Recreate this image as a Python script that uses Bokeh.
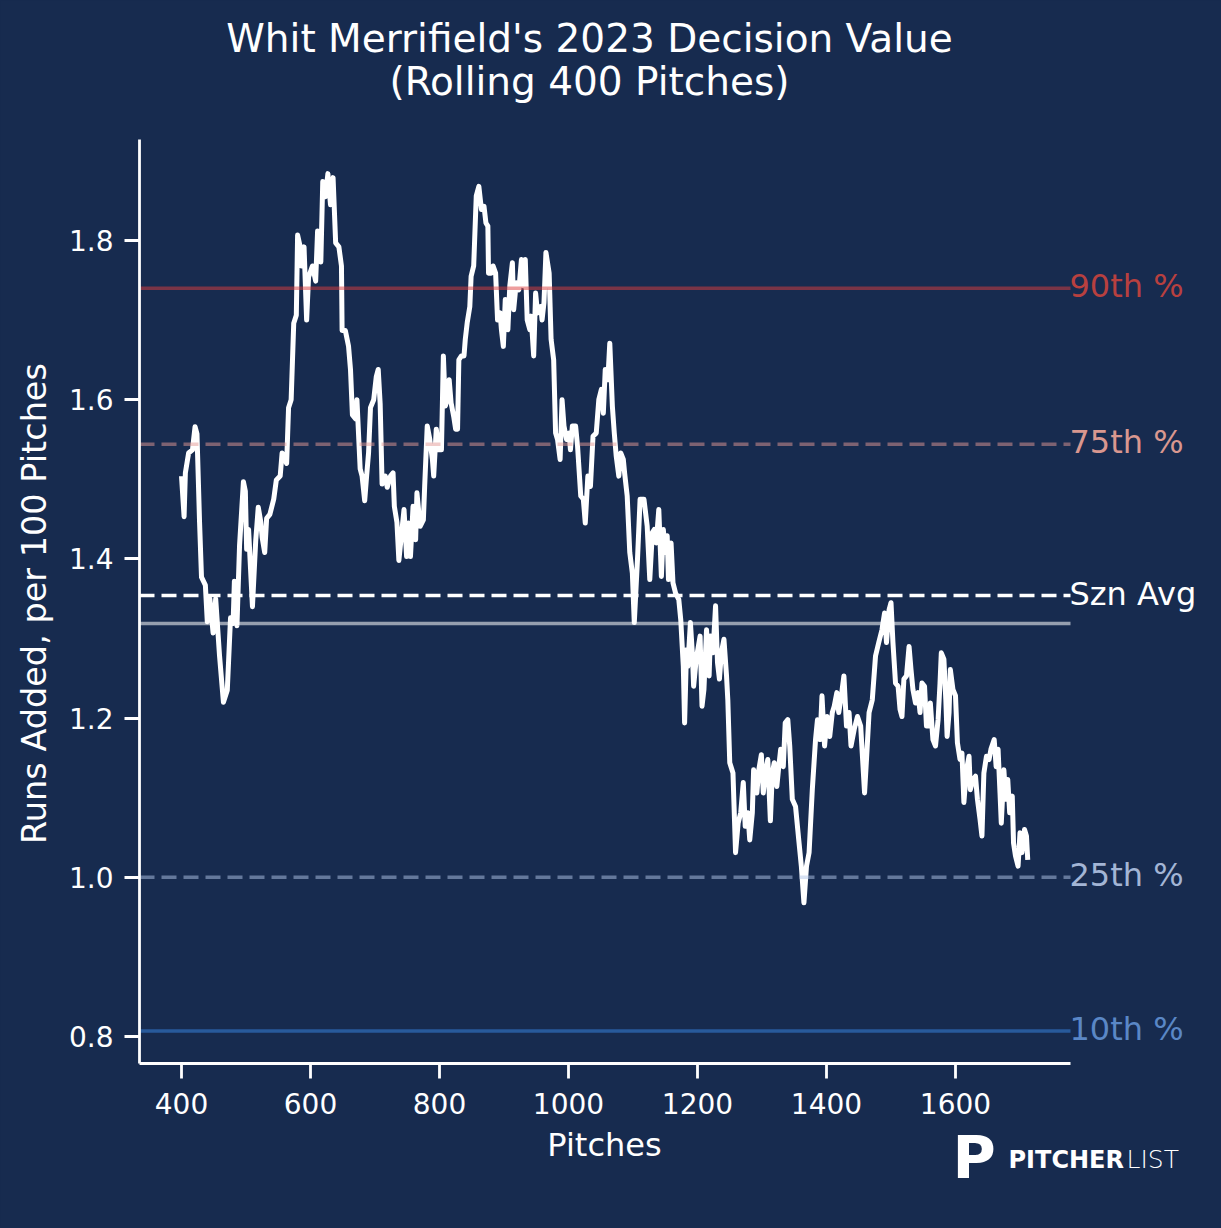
import math
from bokeh.plotting import figure
from bokeh.models import Range1d, Label, FixedTicker, PrintfTickFormatter
from bokeh.embed import file_html
from bokeh.resources import INLINE

# ---------------- data ----------------
pitches = [
    400, 404, 406, 411, 417, 421, 424, 428, 431, 437, 440, 444, 449, 453, 459, 465, 471, 476, 480, 482,
    486, 490, 496, 499, 501, 504, 507, 510, 515, 519, 523, 525, 529, 532, 537, 543, 547, 553, 556, 563,
    566, 570, 574, 578, 580, 584, 586, 590, 594, 597, 603, 608, 611, 616, 619, 623, 627, 631, 635, 639,
    644, 648, 649, 654, 659, 662, 665, 670, 672, 677, 680, 684, 687, 690, 693, 698, 702, 705, 708, 711,
    716, 719, 724, 728, 730, 734, 737,
    745, 749, 752, 755, 759, 763, 765, 770, 775, 777, 781, 785, 789, 791, 795, 799, 803, 806, 809, 812,
    815, 818, 822, 825, 828, 830, 834, 838, 840, 843, 847, 849, 853, 857, 861, 865, 869, 872, 875, 876,
    880, 883, 887, 890, 894, 896, 899, 902, 906, 909, 913, 915, 919, 923, 927, 930, 933, 936, 940, 942,
    946, 949, 952, 957, 959, 962, 965, 970, 973, 977, 980, 983, 987, 990, 993, 997, 1001, 1003, 1006, 1011,
    1014, 1019, 1023, 1026, 1030, 1034, 1038, 1043, 1047, 1051, 1054, 1057, 1061, 1064, 1068, 1071, 1074, 1078, 1081, 1085,
    1087, 1091, 1095, 1099, 1102, 1107, 1111,
    1117, 1122, 1126, 1130, 1133, 1136, 1140, 1144, 1147, 1150, 1153, 1155, 1159, 1162, 1166, 1171,
    1174, 1178, 1180, 1183, 1185, 1189, 1192, 1194, 1198, 1204, 1207, 1210, 1214, 1218, 1220, 1224, 1228, 1231, 1234, 1237,
    1241, 1245, 1247,
    1250, 1255, 1259, 1263, 1267, 1271, 1274, 1278, 1281, 1285, 1287, 1292, 1295, 1299, 1302, 1305, 1309, 1313, 1316, 1319,
    1323, 1326, 1329, 1333, 1336, 1340, 1343, 1347, 1352, 1357, 1361, 1365, 1369, 1373, 1378, 1383, 1386, 1390, 1393, 1397,
    1401, 1405, 1409, 1412, 1416, 1419, 1423, 1427, 1431, 1435, 1438, 1443, 1448,
    1453, 1459, 1462, 1466, 1471, 1476, 1481, 1486, 1490, 1493, 1497, 1500, 1503, 1507, 1511, 1514, 1517, 1520, 1524, 1528,
    1531, 1534, 1538, 1542, 1545, 1548, 1552, 1555, 1559, 1561, 1565, 1569, 1573, 1576, 1578, 1582, 1585, 1587, 1590, 1592,
    1596, 1600, 1603, 1607, 1610, 1613, 1617, 1621, 1623, 1627, 1631, 1634, 1638, 1641, 1644, 1648, 1652, 1655, 1660, 1663,
    1666, 1669, 1671, 1675, 1678, 1681, 1684, 1688, 1690, 1693, 1697, 1700, 1703, 1707, 1710, 1712,
]
runs_added = [
    1.504, 1.453, 1.508, 1.533, 1.537, 1.566, 1.557, 1.446, 1.377, 1.367, 1.321, 1.350, 1.307, 1.350, 1.278, 1.220, 1.235, 1.326, 1.319, 1.372,
    1.316, 1.417, 1.497, 1.485, 1.412, 1.437, 1.388, 1.340, 1.422, 1.465, 1.446, 1.427, 1.408, 1.451, 1.456, 1.475, 1.499, 1.504, 1.533, 1.520,
    1.590, 1.600, 1.696, 1.706, 1.807, 1.792, 1.768, 1.792, 1.700, 1.754, 1.768, 1.749, 1.812, 1.773, 1.874, 1.855, 1.884, 1.845, 1.879, 1.797,
    1.792, 1.768, 1.687, 1.687, 1.667, 1.638, 1.581, 1.576, 1.600, 1.513, 1.504, 1.473, 1.504, 1.533, 1.590, 1.600, 1.629, 1.638, 1.595, 1.494,
    1.504, 1.490, 1.504, 1.508, 1.466, 1.446, 1.398,
    1.462, 1.403, 1.445, 1.403, 1.466, 1.424, 1.483, 1.441, 1.449, 1.491, 1.567, 1.550, 1.525, 1.504, 1.563, 1.537, 1.537, 1.655, 1.592, 1.600,
    1.625, 1.596, 1.579, 1.563, 1.563, 1.650, 1.655, 1.655, 1.676, 1.697, 1.717, 1.755, 1.768, 1.856, 1.868, 1.839, 1.843, 1.822, 1.818, 1.759,
    1.759, 1.768, 1.759, 1.700, 1.709, 1.688, 1.667, 1.726, 1.688, 1.743, 1.772, 1.713, 1.747, 1.738, 1.776, 1.743, 1.776, 1.700, 1.688, 1.705,
    1.655, 1.734, 1.709, 1.717, 1.700, 1.722, 1.785, 1.759, 1.676, 1.650, 1.558, 1.550, 1.525, 1.600, 1.567, 1.550, 1.558, 1.537, 1.567, 1.567,
    1.542, 1.479, 1.475, 1.445, 1.504, 1.491, 1.554, 1.558, 1.600, 1.613, 1.583, 1.638, 1.625, 1.671, 1.592, 1.558, 1.529, 1.504, 1.533, 1.525,
    1.508, 1.479, 1.408, 1.382, 1.320, 1.400, 1.475,
    1.475, 1.441, 1.374, 1.433, 1.437, 1.420, 1.462, 1.378, 1.437, 1.408, 1.429, 1.374, 1.420, 1.370, 1.357, 1.349,
    1.324, 1.265, 1.194, 1.286, 1.265, 1.320, 1.282, 1.240, 1.274, 1.303, 1.215, 1.236, 1.311, 1.253, 1.303, 1.282, 1.341, 1.270, 1.249, 1.282,
    1.299, 1.253, 1.223,
    1.144, 1.131, 1.031, 1.068, 1.081, 1.119, 1.064, 1.081, 1.047, 1.081, 1.135, 1.106, 1.135, 1.154, 1.106, 1.131, 1.148, 1.071, 1.131, 1.144,
    1.114, 1.139, 1.161, 1.139, 1.194, 1.198, 1.165, 1.098, 1.089, 1.047, 1.014, 0.968, 1.014, 1.031, 1.110, 1.173, 1.198, 1.173, 1.228, 1.165,
    1.202, 1.177, 1.207, 1.215, 1.232, 1.207, 1.228, 1.253, 1.190, 1.207, 1.165, 1.186, 1.202,
    1.190, 1.106, 1.148, 1.207, 1.223, 1.278, 1.295, 1.311, 1.332, 1.295, 1.336, 1.345, 1.295, 1.244, 1.240, 1.211, 1.202, 1.249, 1.253, 1.290,
    1.261, 1.236, 1.219, 1.232, 1.207, 1.244, 1.240, 1.190, 1.190, 1.219, 1.173, 1.165, 1.198, 1.244, 1.282, 1.274, 1.223, 1.177, 1.207, 1.261,
    1.236, 1.228, 1.169, 1.148, 1.156, 1.094, 1.135, 1.152, 1.110, 1.123, 1.127, 1.098, 1.073, 1.052, 1.131, 1.152, 1.148, 1.161, 1.173, 1.139,
    1.161, 1.106, 1.068, 1.135, 1.098, 1.123, 1.081, 1.102, 1.043, 1.027, 1.014, 1.056, 1.031, 1.060, 1.052, 1.022,
]

ref_labels = ["90th %", "75th %", "Szn Avg", "25th %", "10th %"]
ref_values = [1.740, 1.544, 1.354, 1.000, 0.807]
league_avg = 1.319

x_ticks = [400, 600, 800, 1000, 1200, 1400, 1600]
y_ticks = [0.8, 1.0, 1.2, 1.4, 1.6, 1.8]
title_lines = ["Whit Merrifield's 2023 Decision Value", "(Rolling 400 Pitches)"]
x_label = "Pitches"
y_label = "Runs Added, per 100 Pitches"

# ---------------- layout helpers (screen pixel -> data) ----------------
BG = "#172B4F"
FONT = "DejaVu Sans"
W, H = 1220, 1226           # canvas = plotting frame
KX, KY = 0.645, 796.0       # pixels per data unit
SX400, SY18 = 181.0, 240.0  # screen position of x=400 and y=1.8


def data_x(sx):
    return 400 + (sx - SX400) / KX


def data_y(sy):
    return 1.8 - (sy - SY18) / KY


X0, X1 = data_x(139), data_x(1070)   # visible axis extent
Y0, Y1 = data_y(1063), data_y(139)

p = figure(
    frame_width=W, frame_height=H,
    x_range=Range1d(data_x(0), data_x(W)), y_range=Range1d(data_y(H), data_y(0)),
    output_backend="svg", toolbar_location=None,
    min_border_left=0, min_border_right=0, min_border_top=0, min_border_bottom=0,
    background_fill_color=BG, border_fill_color=BG, outline_line_color=None,
)
p.xgrid.visible = False
p.ygrid.visible = False

for ax in (p.xaxis[0], p.yaxis[0]):
    ax.axis_line_color = "white"
    ax.axis_line_width = 2.8
    ax.major_tick_line_color = "white"
    ax.major_tick_line_width = 2.8
    ax.major_tick_out = 15
    ax.major_tick_in = 0
    ax.minor_tick_line_color = None
    ax.major_label_text_color = "white"
    ax.major_label_text_font = FONT
    ax.major_label_text_font_size = "28px"

p.xaxis.ticker = FixedTicker(ticks=x_ticks)
p.yaxis.ticker = FixedTicker(ticks=y_ticks)
p.yaxis.formatter = PrintfTickFormatter(format="%.1f")
p.xaxis.fixed_location = Y0
p.yaxis.fixed_location = X0
p.xaxis.bounds = (X0, X1)
p.yaxis.bounds = (Y0, Y1)
p.xaxis.major_label_standoff = 14
p.yaxis.major_label_standoff = 11

# data line
p.line(pitches, runs_added, line_color="white", line_width=5, line_join="round")

# reference lines (drawn over the data line, semi-transparent like the original)
line_styles = [
    ("#dd3d3d", 0.5, "solid"),
    ("#e39995", 0.5, "15 7"),
    ("#ffffff", 1.0, "15 7"),
    ("#b1c5e7", 0.5, "15 7"),
    ("#3989e7", 0.5, "solid"),
]
text_colors = ["#b8403f", "#d9978f", "#ffffff", "#a3b5d5", "#5a87c6"]

for val, (col, alpha, dash), tcol, lab in zip(ref_values, line_styles, text_colors, ref_labels):
    p.line([X0, X1], [val, val], line_color=col, line_alpha=alpha, line_width=3.5, line_dash=dash)
    p.add_layout(Label(x=X1, y=val, x_offset=-1, y_offset=2, text=lab, text_color=tcol, text_font=FONT,
                       text_font_size="32px", text_align="left", text_baseline="middle"))

p.line([X0, X1], [league_avg, league_avg], line_color="white", line_alpha=0.55, line_width=3.5)

# axis titles
p.add_layout(Label(x=data_x(604), y=data_y(1144), text=x_label, text_color="white", text_font=FONT,
                   text_font_size="32px", text_align="center", text_baseline="middle"))
p.add_layout(Label(x=data_x(34), y=data_y(603), text=y_label, text_color="white", text_font=FONT,
                   text_font_size="33.5px", text_align="center", text_baseline="middle",
                   angle=math.pi / 2))

# title
p.add_layout(Label(x=data_x(589), y=data_y(38), text=title_lines[0], text_color="white",
                   text_font=FONT, text_font_size="39px", text_align="center",
                   text_baseline="middle"))
p.add_layout(Label(x=data_x(589), y=data_y(81), text=title_lines[1], text_color="white",
                   text_font=FONT, text_font_size="39px", text_align="center",
                   text_baseline="middle"))

# logo
p.add_layout(Label(x=data_x(952), y=data_y(1157), text="P", text_color="white",
                   text_font=FONT, text_font_style="bold", text_font_size="59px",
                   text_align="left", text_baseline="middle"))
p.add_layout(Label(x=data_x(1008), y=data_y(1159), text="PITCHER", text_color="white",
                   text_font=FONT, text_font_style="bold", text_font_size="24px",
                   text_align="left", text_baseline="middle"))
p.add_layout(Label(x=data_x(1126), y=data_y(1159), text="LIST", text_color="white",
                   text_font="DejaVu Sans Light", text_font_size="25px",
                   text_align="left", text_baseline="middle"))

html = file_html(p, INLINE)
html = html.replace("<head>", "<head><style>html,body{background:%s;}</style>" % BG, 1)
open("out.html", "w").write(html)
